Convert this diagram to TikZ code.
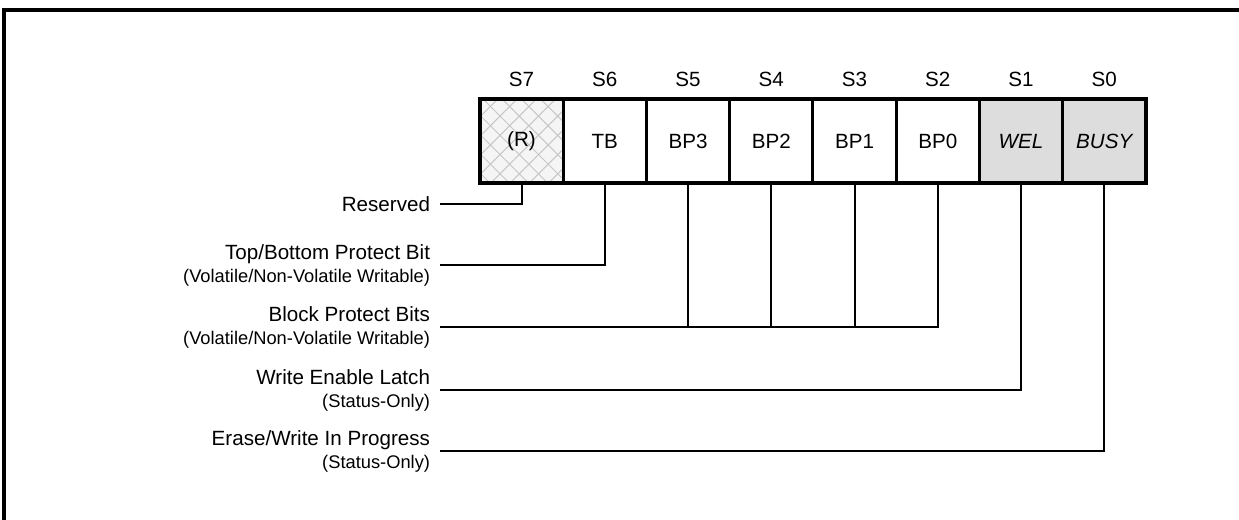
\documentclass[tikz,border=0pt]{standalone}
\usepackage{fontspec}
\setmainfont{Liberation Sans}
\usetikzlibrary{positioning,patterns.meta}
\newcommand\subtxt{\fontsize{9.15}{11.5}\selectfont}

\begin{document}
\begin{tikzpicture}[
        x=0.5pt, y=-0.5pt,
        font=\fontsize{10.3}{11.5}\selectfont,
        node distance=0pt,
        bitcell/.style={draw=black, line width=1.5pt, minimum width=41.625pt, minimum height=42pt, inner sep=0pt, outer sep=0pt},
        resv/.style={bitcell, preaction={fill=gray!8}, preaction={pattern={Lines[angle=45,distance=6.8pt,line width=0.5pt]}, pattern color=gray!45}, preaction={pattern={Lines[angle=-45,distance=6.8pt,line width=0.5pt]}, pattern color=gray!45}},
        stat/.style={bitcell, fill=gray!27, font=\fontsize{10.3}{11.5}\selectfont\itshape},
        bitnum/.style={inner sep=0pt, above=6pt of #1},
        regbox/.style={draw=black, line width=2pt},
        frame/.style={draw=black, line width=2pt},
        leader/.style={draw=black, line width=1pt},
        lbl/.style={anchor=east, align=right, inner sep=0pt, outer sep=5pt}
    ]
        \useasboundingbox (0,0) rectangle (1239,520);
        \draw[frame] (4,521) -- (4,10) -- (1240,10);

        \node[resv] (c7) at (521.5,141) {(R)};
        \node[bitcell, right=of c7] (c6) {TB};
        \node[bitcell, right=of c6] (c5) {BP3};
        \node[bitcell, right=of c5] (c4) {BP2};
        \node[bitcell, right=of c4] (c3) {BP1};
        \node[bitcell, right=of c3] (c2) {BP0};
        \node[stat, right=of c2] (c1) {WEL};
        \node[stat, right=of c1] (c0) {BUSY};
        \draw[regbox] (c7.north west) rectangle (c0.south east);

        \foreach \i in {0,...,7}
            \node[bitnum=c\i] (s\i) {S\i};

        \node[lbl] (resl) at (440,204) {Reserved};
        \node[lbl] (tbl) at (440,265) {Top/Bottom Protect Bit\\\subtxt (Volatile/Non-Volatile Writable)};
        \node[lbl] (bpl) at (440,327) {Block Protect Bits\\\subtxt (Volatile/Non-Volatile Writable)};
        \node[lbl] (well) at (440,390) {Write Enable Latch\\\subtxt (Status-Only)};
        \node[lbl] (busyl) at (440,451) {Erase/Write In Progress\\\subtxt (Status-Only)};

        \draw[leader] (resl.east) -| (c7.south);
        \draw[leader] (tbl.east) -| (c6.south);
        \draw[leader] (bpl.east) -| (c2.south);
        \foreach \c in {c5,c4,c3}
            \draw[leader] (\c.south) -- (\c.south |- bpl.east);
        \draw[leader] (well.east) -| (c1.south);
        \draw[leader] (busyl.east) -| (c0.south);
    \end{tikzpicture}
\end{document}
